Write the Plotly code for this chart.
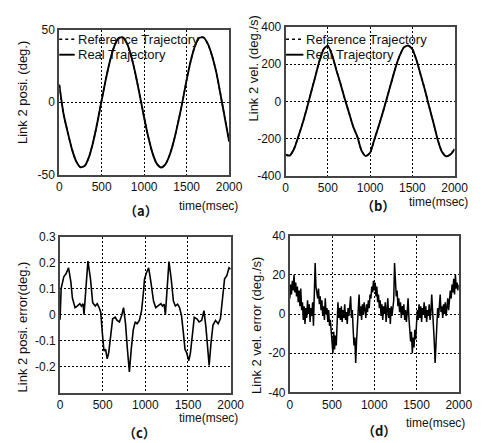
import plotly.graph_objects as go

W, H = 486, 443

# ---------------- data ----------------
t50 = list(range(0, 2001, 50))

# (a) link 2 position (deg.)
pos_real = [12, -8, -20.8, -32.5, -40.8, -44.8, -43.8, -37.8, -27.3, -13.7,
            1.5, 16.2, 29.1, 38.8, 44.1, 44.6, 40.1, 31.1, 18.7, 4.2,
            -10.7, -24.4, -35.4, -42.5, -45, -42.8, -36.4, -26.5, -13.9, 0,
            15.3, 28.8, 38.9, 44.3, 44.5, 40.1, 31.8, 20.3, 5, -11, -27]
pos_ref = pos_real  # reference is visually indistinguishable

# (b) link 2 velocity (deg./s)
vel_real = [-286, -290, -255, -190, -120, -40, 45, 130, 215, 280,
            298, 250, 170, 95, 15, -60, -135, -190, -265, -293,
            -275, -205, -135, -60, 20, 100, 180, 245, 290, 300,
            280, 220, 140, 60, -30, -115, -205, -270, -294, -285, -255]
vel_ref = vel_real

# (c) link 2 position error (deg.)
err_pos_t = [0, 13, 44, 70, 100, 127, 145, 176, 202, 232,
             251, 270, 281, 300, 327, 357, 383, 413, 436, 458,
             477, 496, 515, 534, 553, 571, 598, 617, 647, 670,
             696, 722, 745, 768, 790, 813, 835, 858, 881, 903,
             930, 956, 979, 990, 1009, 1039, 1065, 1096, 1122, 1152,
             1182, 1201, 1220, 1235, 1254, 1277, 1303, 1329, 1352, 1378,
             1401, 1424, 1446, 1465, 1484, 1510, 1529, 1552, 1574, 1604,
             1631, 1661, 1687, 1710, 1729, 1748, 1770, 1793, 1823, 1853,
             1880, 1906, 1929, 1955, 1981, 2000]
err_pos_v = [-0.02, 0.10, 0.145, 0.157, 0.18, 0.126, 0.064, 0.027, 0.033, 0.042,
             0.033, 0.042, 0.0, 0.10, 0.206, 0.138, 0.046, 0.033, 0.042, 0.027,
             0.009, -0.07, -0.14, -0.133, -0.17, -0.146, -0.06, -0.016, -0.01, -0.022,
             -0.028, -0.004, 0.027, -0.035, -0.133, -0.22, -0.133, -0.06, -0.028, -0.035,
             -0.022, 0.015, 0.09, 0.135, 0.157, 0.18, 0.126, 0.052, 0.027, 0.033,
             0.042, 0.033, 0.04, 0.0, 0.10, 0.204, 0.138, 0.052, 0.033, 0.04,
             0.027, -0.004, -0.07, -0.133, -0.146, -0.177, -0.146, -0.06, -0.01, -0.016,
             -0.028, -0.022, 0.015, -0.047, -0.133, -0.195, -0.109, -0.04, -0.022, -0.035,
             -0.016, 0.064, 0.138, 0.15, 0.18, 0.175]
assert len(err_pos_t) == len(err_pos_v)

# (d) link 2 velocity error (deg./s), sampled every 10 ms
t10 = list(range(0, 2001, 10))
err_vel = [8, 15, 10, 17, 12, 20, 11, 16, 9, 14,
           6, 12, 4, 13, 2, 6, -3, 4, -5, 3,
           -2, 7, 0, 5, -4, 3, -1, 6, -6, 10,
           26, 14, 11, 8, 13, 5, 9, 2, 7, -1,
           4, -3, 8, 0, 3, -4, 2, -6, -3, -10,
           -14, -20, -9, -18, -11, -16, -5, 6, -2, 3,
           -3, 4, -4, 2, -2, 5, -3, 1, -5, 3,
           -1, 6, 9, -2, 2, -8, -16, -12, -25, -14,
           -6, 2, 10, -1, 4, -3, 5, 0, 6, 2,
           -2, 5, 1, 7, 3, 10, 8, 14, 11, 17,
           12, 16, 9, 14, 6, 10, 3, 7, -1, 5,
           -3, 4, 0, 6, -4, 2, 8, -2, 3, -5,
           4, -1, 3, 7, 26, 13, 9, 12, 4, 8,
           1, 6, -2, 4, 0, 5, -3, 2, -4, 1,
           8, -2, -7, -14, -9, -20, -12, -17, -8, -13,
           -5, 2, -3, 5, -2, 4, -4, 3, 0, 6,
           -2, 4, -4, 2, -1, 5, -3, 1, 10, 3,
           -6, -14, -25, -12, -4, 3, -2, 5, 10, 1,
           4, -2, 5, 0, 6, -1, 3, 8, 2, 6,
           12, 8, 15, 11, 18, 10, 20, 13, 16, 12,
           15]
assert len(err_vel) == len(t10)

x_ticks = [0, 500, 1000, 1500, 2000]

# ---------------- layout helpers ----------------
def px_x(x):
    return x / W

def px_y(y):
    return 1 - y / H

# plot boxes in pixels: (left, right, top, bottom)
boxes = {
    1: (50, 226, 15, 165),
    2: (284.5, 459.7, 12.2, 166.3),
    3: (50.8, 227.6, 228.8, 390),
    4: (288.9, 464, 227.8, 389.8),
}

FONT = "Liberation Sans, Arial, sans-serif"
TXT = "#111111"

fig = go.Figure()

def add_line(x, y, ax, dash="solid", width=1.8):
    xa = "x" if ax == 1 else f"x{ax}"
    ya = "y" if ax == 1 else f"y{ax}"
    fig.add_trace(go.Scatter(x=x, y=y, mode="lines", xaxis=xa, yaxis=ya,
                             line=dict(color="black", width=width, dash=dash,
                                       shape="spline", smoothing=0.6),
                             showlegend=False, hoverinfo="skip"))

add_line(t50, pos_ref, 1, dash="dot", width=1.5)
add_line(t50, pos_real, 1, width=1.9)
add_line(t50, vel_ref, 2, dash="dot", width=1.5)
add_line(t50, vel_real, 2, width=1.9)
fig.add_trace(go.Scatter(x=err_pos_t, y=err_pos_v, mode="lines", xaxis="x3", yaxis="y3",
                         line=dict(color="black", width=1.6),
                         showlegend=False, hoverinfo="skip"))
fig.add_trace(go.Scatter(x=t10, y=err_vel, mode="lines", xaxis="x4", yaxis="y4",
                         line=dict(color="black", width=1.5),
                         showlegend=False, hoverinfo="skip"))

y_specs = {
    1: dict(range=[-50, 50], tickvals=[-50, 0, 50], ticktext=["-50", "0", "50"]),
    2: dict(range=[-400, 400], tickvals=[-400, -200, 0, 200, 400],
            ticktext=["-400", "-200", "0", "200", "400"]),
    3: dict(range=[-0.3, 0.3], tickvals=[-0.3, -0.2, -0.1, 0, 0.1, 0.2, 0.3],
            ticktext=["", "-0.2", "-0.1", "0", "0.1", "0.2", "0.3"]),
    4: dict(range=[-40, 40], tickvals=[-40, -20, 0, 20, 40],
            ticktext=["-40", "-20", "0", "20", "40"]),
}

common = dict(showline=True, linecolor="#444444", linewidth=1.8, mirror=True,
              showgrid=True, gridcolor="#000000", gridwidth=1.3, griddash="2px,2px",
              zeroline=False, ticks="", ticklen=0,
              tickfont=dict(family=FONT, size=12, color=TXT),
              fixedrange=True)

lay = {}
for i, (l, r, t, b) in boxes.items():
    sfx = "" if i == 1 else str(i)
    lay[f"xaxis{sfx}"] = dict(domain=[px_x(l), px_x(r)], range=[0, 2000],
                              tickvals=x_ticks, anchor=f"y{sfx}", **common)
    lay[f"yaxis{sfx}"] = dict(domain=[px_y(b), px_y(t)], anchor=f"x{sfx}",
                              **y_specs[i], **common)

fig.update_layout(width=W, height=H, margin=dict(l=0, r=0, t=0, b=0),
                  paper_bgcolor="white", plot_bgcolor="white",
                  showlegend=False, **lay)

def ann(text, x, y, size=12, angle=0, xanchor="center", family=FONT, bold=False):
    fig.add_annotation(text=f"<b>{text}</b>" if bold else text,
                       x=px_x(x), y=px_y(y), xref="paper", yref="paper",
                       showarrow=False, textangle=angle, xanchor=xanchor, yanchor="middle",
                       font=dict(family=family, size=size, color=TXT))

# y axis titles
ann("Link 2 posi. (deg.)", 12, 80, size=13, angle=-90)
ann("Link 2 vel. (deg./s)", 251, 55, size=13, angle=-90)
ann("Link 2 posi. error(deg.)", 12, 322, size=13, angle=-90)
ann("Link 2 vel. error (deg./s)", 255, 321, size=13, angle=-90)

# x axis titles
ann("time(msec)", 205, 197, size=12)
ann("time(msec)", 443, 193, size=12)
ann("time(msec)", 205, 416, size=12)
ann("time(msec)", 440, 421, size=12)

# panel letters
CJK = "Noto Sans CJK SC"
ann("（a）", 135, 202, size=13, family=CJK, bold=True)
ann("（b）", 380, 197, size=13, family=CJK, bold=True)
ann("（c）", 133, 431, size=13, family=CJK, bold=True)
ann("（d）", 381, 429, size=13, family=CJK, bold=True)

# legends inside (a) and (b)
for (x0, x1) in [(50, 66), (285, 303)]:
    fig.add_shape(type="line", xref="paper", yref="paper",
                  x0=px_x(x0), x1=px_x(x1), y0=px_y(25), y1=px_y(25),
                  line=dict(color="black", width=1.5, dash="dot"))
    fig.add_shape(type="line", xref="paper", yref="paper",
                  x0=px_x(x0), x1=px_x(x1), y0=px_y(41), y1=px_y(41),
                  line=dict(color="black", width=1.9))
    ann("Reference Trajectory", x1 + 1, 25, size=13, xanchor="left")
    ann("Real Trajectory", x1 + 1, 41, size=13, xanchor="left")

fig.write_html("out.html")
